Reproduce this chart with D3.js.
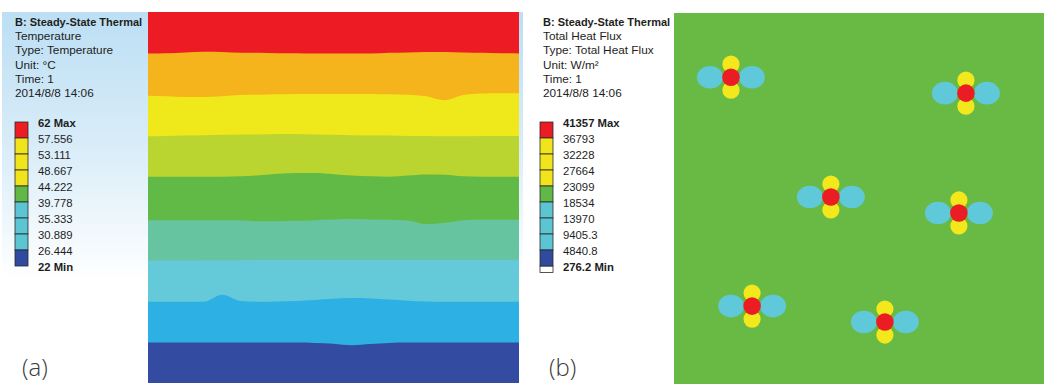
<!DOCTYPE html>
<html>
<head>
<meta charset="utf-8">
<script src="https://cdn.jsdelivr.net/npm/d3@7"></script>
<style>
  body { margin: 0; background: #fff; }
  text { font-family: "Liberation Sans", Arial, sans-serif; }
</style>
</head>
<body>
<script>
var w = 1044, h = 385;

// ---- data ----
var headerA = ["B: Steady-State Thermal", "Temperature", "Type: Temperature", "Unit: °C", "Time: 1", "2014/8/8 14:06"];
var headerB = ["B: Steady-State Thermal", "Total Heat Flux", "Type: Total Heat Flux", "Unit: W/m²", "Time: 1", "2014/8/8 14:06"];

var tempLabels = ["62 Max", "57.556", "53.111", "48.667", "44.222", "39.778", "35.333", "30.889", "26.444", "22 Min"];
var fluxLabels = ["41357 Max", "36793", "32228", "27664", "23099", "18534", "13970", "9405.3", "4840.8", "276.2 Min"];

var tempLegendColors = ["#ec1c24", "#f1e41c", "#f1e41c", "#f1e41c", "#60b846", "#5cc5d4", "#5cc5d4", "#5cc5d4", "#2f4a9e"];
var fluxLegendColors = ["#ec1c24", "#f1e41c", "#f1e41c", "#f1e41c", "#60b846", "#5cc5d4", "#5cc5d4", "#5cc5d4", "#2f4a9e"];

// temperature bands on the plate, top (hot) to bottom (cold)
var bandColors = ["#ed1c24", "#f5b41b", "#efe81b", "#bad52f", "#62ba46", "#66c5a0", "#64c9d8", "#2db1e4", "#334ba0"];

// stations along the plate width (% of width)
var stations = [0, 5, 10, 15, 20, 25, 30, 35, 40, 45, 50, 55, 60, 65, 70, 75, 80, 85, 90, 95, 100];

// isotherm depth (% of plate height) at each station
var iso1 = [11.2, 11.1, 10.9, 10.7, 10.8, 11.0, 11.0, 11.1, 11.1, 11.2, 11.2, 11.2, 11.2, 11.0, 10.9, 10.8, 10.8, 10.9, 11.0, 11.1, 11.2];
var iso2 = [22.6, 22.7, 22.9, 22.9, 22.7, 22.4, 22.3, 22.2, 22.1, 22.1, 22.1, 22.1, 22.1, 22.2, 22.3, 22.7, 23.8, 22.4, 22.0, 21.9, 21.9];
var iso3 = [33.5, 33.4, 33.3, 33.2, 33.1, 33.0, 33.0, 32.9, 32.9, 33.0, 33.1, 33.2, 33.3, 33.3, 33.4, 33.4, 33.5, 33.5, 33.4, 33.4, 33.4];
var iso4 = [44.4, 44.4, 44.4, 44.4, 44.4, 44.3, 44.0, 43.6, 43.4, 43.4, 43.7, 44.1, 44.3, 44.4, 44.1, 43.8, 43.9, 44.3, 44.4, 44.4, 44.4];
var iso5 = [56.1, 56.1, 56.1, 56.1, 56.1, 56.2, 56.4, 56.4, 56.3, 56.1, 55.9, 55.8, 55.9, 56.0, 56.2, 57.2, 56.8, 56.1, 56.0, 56.0, 56.0];
var iso6 = [67.0, 67.0, 67.0, 66.9, 66.9, 66.9, 66.8, 66.8, 66.8, 66.8, 66.8, 66.8, 66.8, 66.8, 66.8, 66.8, 66.8, 66.8, 66.8, 66.8, 66.8];
var iso7 = [78.1, 78.1, 78.1, 78.1, 76.2, 77.9, 78.1, 78.0, 77.9, 77.6, 77.3, 77.1, 77.2, 77.5, 77.8, 78.0, 78.1, 78.1, 78.1, 78.1, 78.1];
var iso8 = [89.1, 89.1, 89.1, 89.1, 89.1, 89.1, 89.1, 89.1, 89.1, 89.2, 89.4, 89.8, 89.5, 89.2, 89.1, 89.1, 89.1, 89.1, 89.1, 89.1, 89.1];

// pin (heat source) positions on plate (b), % of width / height
var pinX = [15.4, 78.9, 42.4, 77.0, 21.1, 57.0];
var pinY = [17.3, 21.6, 49.6, 53.9, 79.0, 83.3];

// ---- svg ----
var svg = d3.select("body").append("svg")
    .attr("width", w)
    .attr("height", h);

var defs = svg.append("defs");
var grad = defs.append("linearGradient")
    .attr("id", "bgA")
    .attr("x1", 0).attr("y1", 0).attr("x2", 0).attr("y2", 1);
grad.append("stop").attr("offset", "0%").attr("stop-color", "#bcdff4");
grad.append("stop").attr("offset", "35%").attr("stop-color", "#d8ecf8");
grad.append("stop").attr("offset", "72%").attr("stop-color", "#ffffff");
grad.append("stop").attr("offset", "100%").attr("stop-color", "#ffffff");

svg.append("rect")
    .attr("x", 2).attr("y", 12)
    .attr("width", 521).attr("height", h - 12)
    .style("fill", "url(#bgA)");

// ---- panel (a): temperature bands ----
var xA = d3.scaleLinear().domain([0, 100]).range([148, 519]);
var yA = d3.scaleLinear().domain([0, 100]).range([12, 383]);

var isotherms = [iso1, iso2, iso3, iso4, iso5, iso6, iso7, iso8];

var bandArea = d3.area()
    .curve(d3.curveMonotoneX)
    .x(d => xA(d[0]))
    .y0(d => yA(d[1]))
    .y1(yA(100));

var plateA = svg.append("g");
bandColors.forEach(function(c, i) {
    var top = i == 0 ? stations.map(() => 0) : isotherms[i - 1];
    plateA.append("path")
        .datum(stations.map((s, j) => [s, top[j]]))
        .attr("d", bandArea)
        .style("fill", c);
});

// ---- legends ----
function legend(x0, barX, labelX, header, labels, colors, tail) {
    var g = svg.append("g");
    g.selectAll("text.hd")
        .data(header)
        .enter().append("text")
        .attr("x", x0)
        .attr("y", (d, i) => 26 + i * 14.2)
        .style("font-size", (d, i) => i == 0 ? "11px" : "11.8px")
        .style("font-weight", (d, i) => i == 0 ? "bold" : "normal")
        .style("fill", "#1e1e1e")
        .text(d => d);

    var yl = d3.scaleLinear().domain([0, labels.length - 1]).range([122, 266]);

    if (tail) {
        g.append("rect")
            .attr("x", barX).attr("y", yl(labels.length - 1))
            .attr("width", 13).attr("height", 6.5)
            .style("fill", "#fff")
            .style("stroke", "#2a2a2a")
            .style("stroke-width", 0.8);
    }

    g.selectAll("rect.box")
        .data(colors)
        .enter().append("rect")
        .attr("x", barX)
        .attr("y", (d, i) => yl(i))
        .attr("width", 13)
        .attr("height", yl(1) - yl(0))
        .style("fill", d => d)
        .style("stroke", "#2a2a2a")
        .style("stroke-width", 0.8);

    g.selectAll("text.lb")
        .data(labels)
        .enter().append("text")
        .attr("x", labelX)
        .attr("y", (d, i) => yl(i) + 4.5)
        .style("font-size", "11.3px")
        .style("font-weight", (d, i) => (i == 0 || i == labels.length - 1) ? "bold" : "normal")
        .style("fill", "#1e1e1e")
        .text(d => d);
}

legend(15, 15, 38, headerA, tempLabels, tempLegendColors, false);
legend(543, 540, 563, headerB, fluxLabels, fluxLegendColors, true);

// ---- panel (b): heat flux ----
var xB = d3.scaleLinear().domain([0, 100]).range([674, 1044]);
var yB = d3.scaleLinear().domain([0, 100]).range([13, 384]);

svg.append("rect")
    .attr("x", xB(0)).attr("y", yB(0))
    .attr("width", xB(100) - xB(0))
    .attr("height", yB(100) - yB(0))
    .style("fill", "#69ba45");

var pins = svg.append("g")
    .selectAll("g")
    .data(pinX.map((x, i) => [x, pinY[i]]))
    .enter().append("g")
    .attr("transform", d => "translate(" + xB(d[0]) + "," + yB(d[1]) + ")");

[-21, 21].forEach(function(dx) {
    pins.append("ellipse")
        .attr("cx", dx).attr("cy", 0)
        .attr("rx", 13).attr("ry", 11.3)
        .style("fill", "#5fc8d9");
});
[-13, 13].forEach(function(dy) {
    pins.append("circle")
        .attr("cx", 0).attr("cy", dy)
        .attr("r", 8.6)
        .style("fill", "#f3e81b");
});
pins.append("circle")
    .attr("r", 8.8)
    .style("fill", "#ec1c24");

// ---- panel tags ----
svg.append("text")
    .attr("x", 22).attr("y", 376)
    .style("font-family", "'Open Sans', sans-serif")
    .style("font-weight", 300)
    .style("font-size", "24px")
    .style("fill", "#3a3a3a")
    .text("(a)");

svg.append("text")
    .attr("x", 549).attr("y", 376)
    .style("font-family", "'Open Sans', sans-serif")
    .style("font-weight", 300)
    .style("font-size", "24px")
    .style("fill", "#3a3a3a")
    .text("(b)");
</script>
</body>
</html>
